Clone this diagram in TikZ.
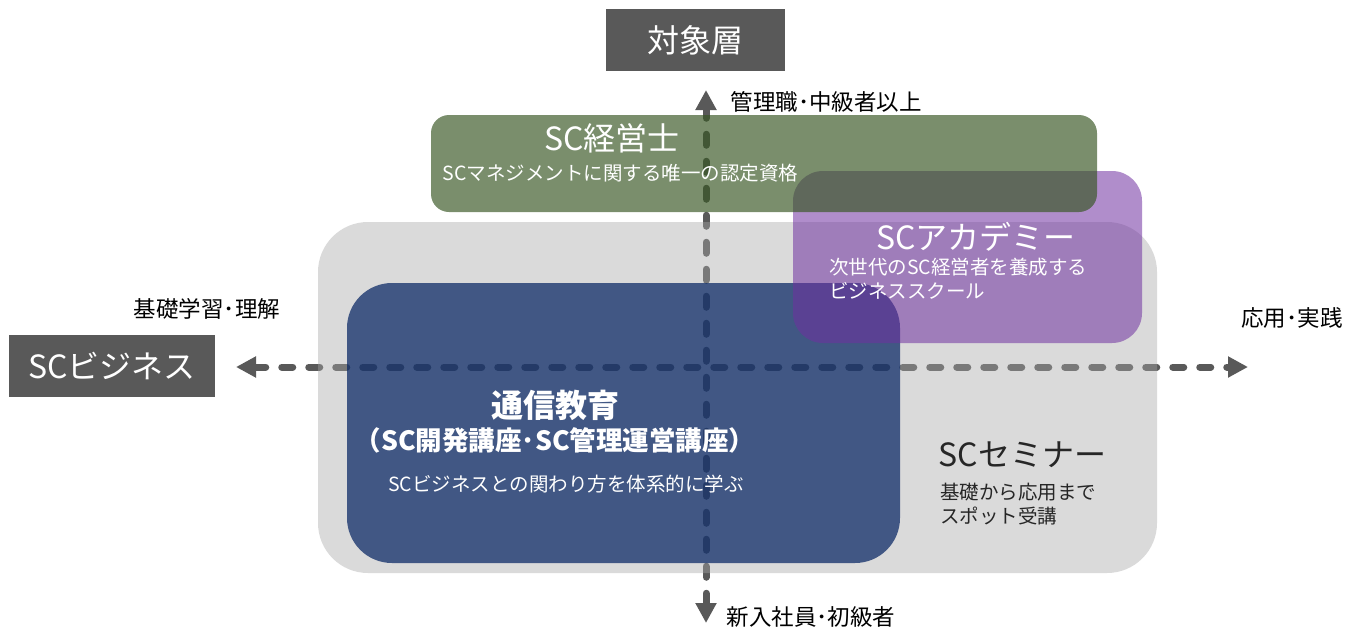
\documentclass[tikz,border=0pt]{standalone}
\usepackage{fontspec}
\setmainfont{Noto Sans CJK JP}
\usetikzlibrary{arrows.meta}
\definecolor{axisgray}{HTML}{595959}
\definecolor{semgray}{HTML}{A6A6A6}
\definecolor{corblue}{HTML}{002060}
\definecolor{acapurple}{HTML}{7030A0}
\definecolor{mgrgreen}{HTML}{375623}
\newcommand{\titletxt}{\fontsize{32pt}{38pt}\selectfont}
\newcommand{\bodytxt}{\fontsize{19.5pt}{24pt}\selectfont}
\newcommand{\axistxt}{\fontsize{22.5pt}{26pt}\selectfont}
\tikzset{
  axisline/.style={line width=7pt,axisgray,line cap=round,dash pattern=on 11pt off 16pt},
  labelbox/.style={fill=axisgray,text=white,inner sep=0pt,font=\titletxt},
  areabox/.style={rounded corners=#1,inner sep=0pt},
}
\begin{document}
\begin{tikzpicture}[x=1pt,y=-1pt]
\useasboundingbox (0,0) rectangle (1349,629);
% axes (drawn under the boxes)
\coordinate (top) at (706,90);
\coordinate (bottom) at (706,623);
\coordinate (left) at (236,367);
\coordinate (right) at (1248,367);
\draw[axisline,{Triangle[length=20pt,width=20pt]}-{Triangle[length=20pt,width=20pt]}] (bottom) -- (top);
\draw[axisline,{Triangle[length=20pt,width=20pt]}-{Triangle[length=20pt,width=20pt]}] (left) -- (right);
% areas
\node[areabox=50pt,fill=semgray,fill opacity=.42,minimum width=839pt,minimum height=351pt] (seminar) at (737.5,397.5) {};
\node[areabox=45pt,fill=corblue,fill opacity=.7,minimum width=553pt,minimum height=280pt] (course) at (623.5,423) {};
\node[areabox=30pt,fill=acapurple,fill opacity=.55,minimum width=349pt,minimum height=172pt] (academy) at (967.5,257) {};
\node[areabox=18pt,fill=mgrgreen,fill opacity=.665,minimum width=666pt,minimum height=97pt] (manager) at (764,163.5) {};
% axis titles
\node[labelbox,minimum width=179pt,minimum height=62pt] (target) at (695.5,40) {対象層};
\node[labelbox,minimum width=206pt,minimum height=62pt] (business) at (112,366) {SCビジネス};
\node[font=\axistxt,anchor=west] (upper) at (727,102) {管理職･中級者以上};
\node[font=\axistxt,anchor=west] (lower) at (723,617) {新入社員･初級者};
\node[font=\axistxt] (basic) at (207,309) {基礎学習･理解};
\node[font=\axistxt] (applied) at (1292,318) {応用･実践};
% texts in the areas
\node[text=white,font=\titletxt] (mgrtitle) at (612,138) {SC経営士};
\node[text=white,font=\bodytxt,anchor=west] (mgrtext) at (439,173) {SCマネジメントに関する唯一の認定資格};
\node[text=white,font=\titletxt] (acatitle) at (976,237) {SCアカデミー};
\node[text=white,font=\bodytxt,anchor=north west,align=left,inner sep=0pt] (acatext) at (829,258) {次世代のSC経営者を養成する\\ビジネススクール};
\node[text=white,font=\titletxt\bfseries] (coursetitle) at (555,405) {通信教育};
\node[text=white,font=\fontsize{26.5pt}{30pt}\selectfont\bfseries] (coursesub) at (555,440) {（SC開発講座･SC管理運営講座）};
\node[text=white,font=\bodytxt] (coursetext) at (566,484) {SCビジネスとの関わり方を体系的に学ぶ};
\node[text=black!85,font=\titletxt,anchor=west] (semtitle) at (935,455) {SCセミナー};
\node[text=black!85,font=\bodytxt,anchor=north west,align=left,inner sep=0pt] (semtext) at (940,483) {基礎から応用まで\\スポット受講};
\end{tikzpicture}
\end{document}
